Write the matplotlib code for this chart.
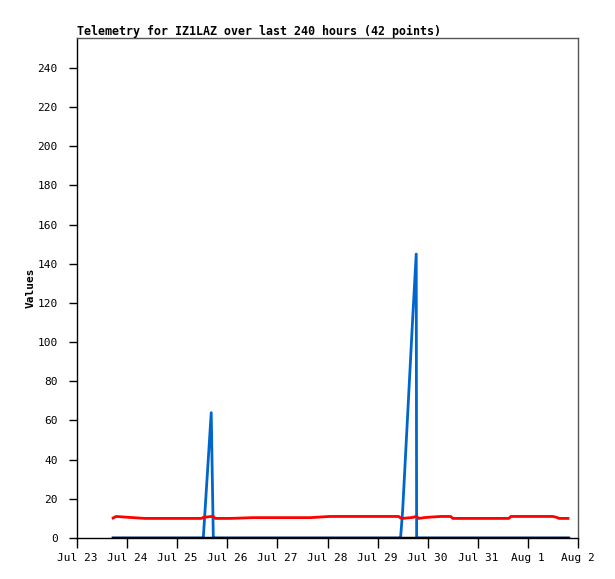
import matplotlib
matplotlib.use("Agg")
import matplotlib.pyplot as plt

# hours since Jul 23 00:00
hours = [17.3, 18.7, 24.0, 32.6, 39.8, 47.0, 54.2, 59.5, 60.5, 64.3,
         65.3, 66.2, 73.4, 84.5, 92.6, 102.2, 111.8, 121.0, 128.6, 135.8,
         143.0, 150.2, 154.1, 155.0, 156.0, 160.8, 162.5, 162.7, 163.7, 167.0,
         174.2, 179.0, 180.0, 188.6, 198.2, 206.9, 207.8, 217.4, 228.0, 229.9,
         230.9, 235.2]
red_vals = [10.2, 11.0, 10.6, 10.0, 10.0, 10.0, 10.0, 10.0, 10.5, 11.0,
            11.0, 10.0, 10.0, 10.4, 10.4, 10.4, 10.4, 11.0, 11.0, 11.0,
            11.0, 11.0, 11.0, 10.2, 10.0, 10.5, 11.0, 11.0, 10.0, 10.5,
            11.0, 11.0, 10.0, 10.0, 10.0, 10.0, 11.0, 11.0, 11.0, 10.5,
            10.0, 10.0]
blue_vals = [0, 0, 0, 0, 0, 0, 0, 0, 0, 64,
             0, 0, 0, 0, 0, 0, 0, 0, 0, 0,
             0, 0, 0, 0, 14, 112, 145, 0, 0, 0,
             0, 0, 0, 0, 0, 0, 0, 0, 0, 0,
             0, 0]
black_vals = [0] * 42

x_tick_hours = [0, 24, 48, 72, 96, 120, 144, 168, 192, 216, 240]
x_tick_labels = ["Jul 23", "Jul 24", "Jul 25", "Jul 26", "Jul 27", "Jul 28",
                 "Jul 29", "Jul 30", "Jul 31", "Aug 1", "Aug 2"]
y_ticks = list(range(0, 241, 20))

W, H = 615, 579
fig = plt.figure(figsize=(W / 100, H / 100), dpi=100)
ax = fig.add_axes([77 / W, 1 - 538 / H, (578 - 77) / W, (538 - 38) / H])

mono = "DejaVu Sans Mono"
ax.plot(hours, blue_vals, color="#0066cc", lw=2.0, zorder=2)
ax.plot(hours, red_vals, color="#ff0000", lw=2.0, zorder=3)
ax.plot(hours, black_vals, color="#000000", lw=2.5, zorder=4)

ax.set_xlim(0, 240)
ax.set_ylim(0, 255.3)
ax.set_xticks(x_tick_hours)
ax.set_xticklabels(x_tick_labels, fontfamily=mono, fontsize=8)
ax.set_yticks(y_ticks)
ax.set_yticklabels([str(v) for v in y_ticks], fontfamily=mono, fontsize=8)
ax.tick_params(axis="x", direction="out", length=7, width=1, pad=4)
ax.tick_params(axis="y", direction="out", length=6, width=1, pad=8)

for s in ("left", "bottom"):
    ax.spines[s].set_color("black")
    ax.spines[s].set_linewidth(1)
for s in ("top", "right"):
    ax.spines[s].set_color("#555555")
    ax.spines[s].set_linewidth(1)

ax.set_ylabel("Values", fontfamily=mono, fontweight="bold", fontsize=8, labelpad=1)
ax.set_title("Telemetry for IZ1LAZ over last 240 hours (42 points)",
             fontfamily=mono, fontweight="bold", fontsize=8.4, loc="left", pad=2)

fig.savefig("out.png", dpi=100, facecolor="white")
